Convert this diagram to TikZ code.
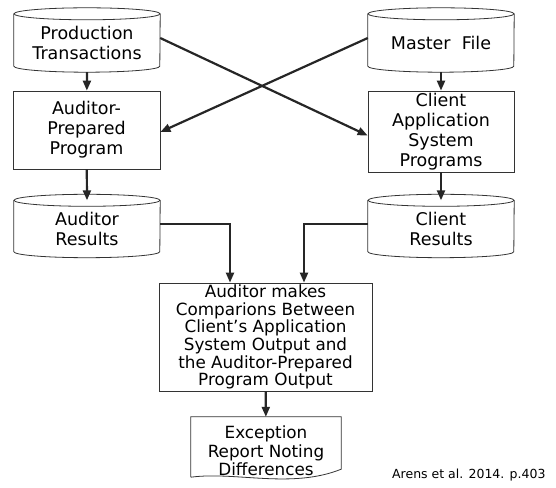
\documentclass[tikz,border=0pt]{standalone}
\usepackage{fontspec}
\setmainfont{DejaVu Sans}
\usetikzlibrary{arrows.meta,calc,positioning}

\begin{document}
\begin{tikzpicture}[
  x=1pt,
  y=1pt,
  >={Triangle[length=10pt,width=8pt]},
  store/.style={minimum width=146pt, minimum height=64pt, inner sep=0pt, align=center, font=\fontsize{17.5}{19.5}\selectfont},
  proc/.style={draw=black!80, line width=0.8pt, inner sep=0pt, align=center, font=\fontsize{17.5}{20}\selectfont},
  flow/.style={->, line width=2.2pt, draw=black!85}
]
  \useasboundingbox (0,0) rectangle (556,487);

  \node[store] (prod) at (87,444) {Production\\Transactions};
  \node[store] (master) at (441,444) {Master\ \ File};
  \node[proc, minimum width=147pt, minimum height=78pt] (audprog) at (86.5,357) {Auditor-\\Prepared\\Program};
  \node[proc, minimum width=146pt, minimum height=81pt] (cliprog) at (441,355.5) {Client\\Application\\System\\Programs};
  \node[store, minimum height=63pt] (audres) at (87,258) {Auditor\\Results};
  \node[store, minimum height=63pt] (clires) at (441,258) {Client\\Results};
  \node[proc, minimum width=213pt, minimum height=108pt, font=\fontsize{16.8}{17.6}\selectfont] (compare) at (265.5,150) {Auditor makes\\Comparions Between\\Client's Application\\System Output and\\the Auditor-Prepared\\Program Output};
  \node[minimum width=150pt, minimum height=68pt, inner sep=0pt, align=center, font=\fontsize{16.8}{18.5}\selectfont] (except) at (266,36) {Exception\\Report Noting\\Differences};
  \node[anchor=east, font=\fontsize{12.5}{14}\selectfont] (source) at (549,12) {Arens et al. 2014. p.403};

  % cylinders (outline sits 3pt above the text box)
  \foreach \n in {prod,master,audres,clires}{
    \draw[black!80, line width=0.8pt] ($(\n.north)+(0,-3)$) ellipse [x radius=73pt, y radius=6pt];
    \draw[black!80, line width=0.8pt] ($(\n.north west)+(0,-3)$) -- ($(\n.south west)+(0,9)$)
      arc[start angle=180, end angle=360, x radius=73pt, y radius=6pt] -- ($(\n.north east)+(0,-3)$);
  }

  % report sheet
  \draw[black!80, line width=0.8pt] ($(except.south west)+(0,8)$) -- (except.north west) -- (except.north east) -- ($(except.south east)+(0,16)$)
    .. controls ($(except.south east)+(-50,-4)$) and ($(except.south west)+(45,14)$) .. ($(except.south west)+(0,8)$);

  \draw[flow] ([yshift=3pt]prod.south) -- (audprog);
  \draw[flow] ([yshift=3pt]master.south) -- (cliprog);
  \draw[flow] ([yshift=5pt]prod.east) -- ([yshift=-4pt]cliprog.west);
  \draw[flow] ([yshift=5pt]master.west) -- ([yshift=-2pt]audprog.east);
  \draw[flow] (audprog) -- ([yshift=-3pt]audres.north);
  \draw[flow] (cliprog) -- ([yshift=-3pt]clires.north);
  \draw[flow] ([yshift=5pt]audres.east) -| ([xshift=-35.5pt]compare.north);
  \draw[flow] ([yshift=5pt]clires.west) -| ([xshift=38.5pt]compare.north);
  \draw[flow] (compare) -- (except);
\end{tikzpicture}
\end{document}
